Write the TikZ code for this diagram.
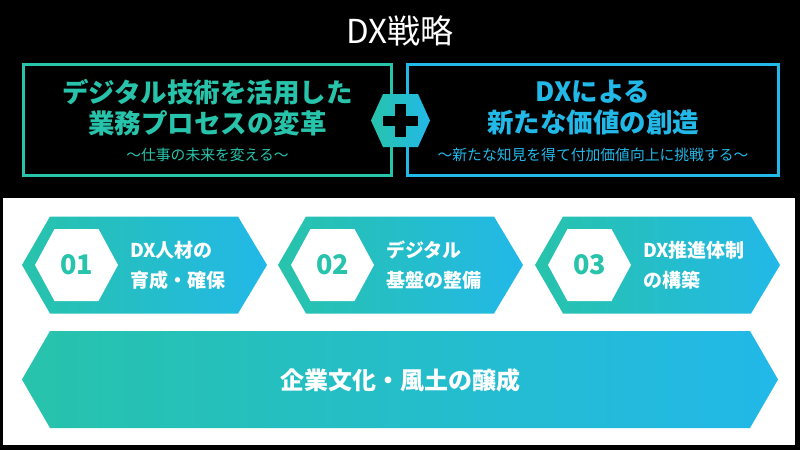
\documentclass[tikz,border=0pt]{standalone}
\usepackage{fontspec}
\newfontfamily\jp{Noto Sans CJK JP}
\definecolor{tealc}{HTML}{27C3AB}
\definecolor{bluec}{HTML}{22B8E8}
\begin{document}
\begin{tikzpicture}[x=1pt,y=-1pt,
  boxline/.style={line width=3pt},
  gradfill/.style={left color=tealc,right color=bluec},
  headtxt/.style={font=\jp\bfseries\fontsize{26.5}{31}\selectfont,align=center,inner sep=0pt},
  subtxt/.style={font=\jp\fontsize{14.8}{18}\selectfont,inner sep=0pt},
  numtxt/.style={font=\jp\bfseries\fontsize{27}{30}\selectfont,text=tealc,inner sep=0pt},
  labtxt/.style={font=\jp\bfseries\fontsize{19}{30}\selectfont,text=white,align=left,anchor=west,inner sep=0pt},
]
\useasboundingbox (0,0) rectangle (800,450);
\fill[black] (0,0) rectangle (800,450);
\fill[white] (3,198) rectangle (795,445);
% title
\node[font=\jp\fontsize{33}{36}\selectfont,text=white,inner sep=0pt] (title) at (400,31) {DX戦略};
% top boxes
\draw[boxline,draw=tealc] (23.5,64.5) rectangle (391.5,175.5);
\draw[boxline,draw=bluec] (407.5,64.5) rectangle (778.5,175.5);
\node[headtxt,text=tealc] (lhead) at (207.5,108) {デジタル技術を活用した\\業務プロセスの変革};
\node[subtxt,text=tealc] (lsub) at (207.5,155) {〜仕事の未来を変える〜};
\node[headtxt,text=bluec] (rhead) at (593,108) {DXによる\\新たな価値の創造};
\node[subtxt,text=bluec] (rsub) at (593,155) {〜新たな知見を得て付加価値向上に挑戦する〜};
% plus hexagon
\shade[gradfill] (371,120.5) -- (383,94) -- (418,94) -- (430,120.5) -- (418,147) -- (383,147) -- cycle;
\fill[black] (395,104) rectangle (405.5,136.5);
\fill[black] (383,115.5) rectangle (417.5,126);
% three hex rows
\foreach \dx/\num/\la/\lb [count=\i] in {0/01/DX人材の/育成・確保, 256/02/デジタル/基盤の整備, 513/03/DX推進体制/の構築}{
  \begin{scope}[xshift=\dx]
    \shade[gradfill] (22,265) -- (50,216.5) -- (238,216.5) -- (267,265) -- (238,313.5) -- (50,313.5) -- cycle;
    \fill[white] (35,265) -- (54.5,229) -- (98.5,229) -- (118,265) -- (98.5,301) -- (54.5,301) -- cycle;
    \node[numtxt] (num\i) at (76.5,265) {\num};
    \node[labtxt] (lab\i) at (130,265) {\la\\\lb};
  \end{scope}
}
% bottom banner
\shade[gradfill] (22,379.5) -- (50,331) -- (750,331) -- (778,379.5) -- (750,428) -- (50,428) -- cycle;
\node[font=\jp\bfseries\fontsize{24}{28}\selectfont,text=white,inner sep=0pt] (culture) at (400,380) {企業文化・風土の醸成};
\end{tikzpicture}
\end{document}
